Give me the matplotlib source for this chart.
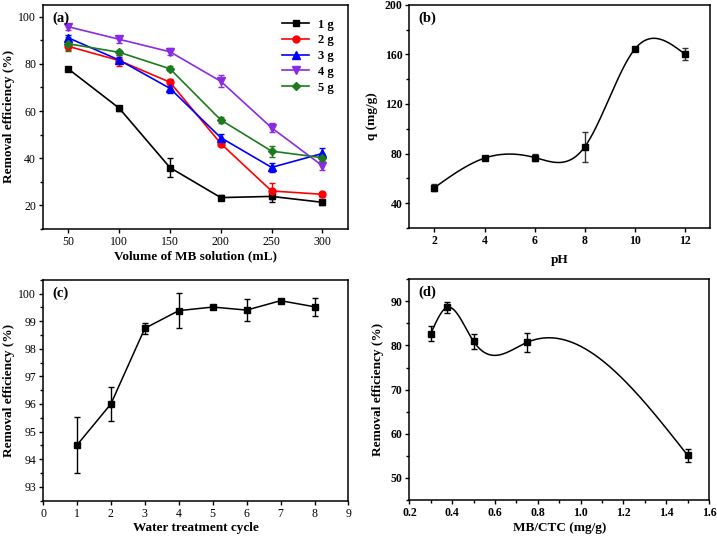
import numpy as np
import matplotlib
matplotlib.use('Agg')
import matplotlib.pyplot as plt
from matplotlib.lines import Line2D
from matplotlib.ticker import MultipleLocator

plt.rcParams['font.family'] = ['Liberation Serif', 'DejaVu Serif']

# (a) removal vs volume of MB solution
vol = [50, 100, 150, 200, 250, 300]
dose_labels = ['1 g', '2 g', '3 g', '4 g', '5 g']
rem_1g = [77.8, 61.2, 36.0, 23.3, 23.8, 21.3]
err_1g = [0.6, 1.0, 4.0, 1.0, 2.5, 1.0]
rem_2g = [87.4, 81.4, 72.2, 46.2, 26.1, 24.7]
err_2g = [1.5, 2.5, 1.5, 1.2, 3.5, 1.0]
rem_3g = [91.0, 81.6, 69.6, 48.7, 36.1, 42.0]
err_3g = [1.2, 1.2, 2.0, 1.5, 1.8, 2.2]
rem_4g = [95.7, 90.4, 85.1, 72.6, 52.9, 36.8]
err_4g = [1.2, 1.5, 1.5, 2.5, 2.0, 2.0]
rem_5g = [88.5, 84.9, 77.9, 56.2, 43.0, 40.2]
err_5g = [3.0, 1.0, 1.0, 1.2, 2.3, 1.5]

# (b) q vs pH
ph = [2, 4, 6, 8, 10, 12]
q = [52.5, 76.3, 76.8, 85.3, 164.2, 160.3]
q_err = [3.0, 1.0, 2.7, 12.2, 1.0, 4.5]

# (c) reuse cycles
cycle = [1, 2, 3, 4, 5, 6, 7, 8]
rem_cyc = [94.51, 96.0, 98.74, 99.38, 99.51, 99.40, 99.74, 99.52]
err_cyc = [1.01, 0.63, 0.21, 0.64, 0.08, 0.39, 0.07, 0.33]

# (d) removal vs MB/CTC ratio
ratio = [0.3, 0.375, 0.5, 0.75, 1.5]
rem_ratio = [82.7, 88.6, 80.9, 80.7, 55.1]
err_ratio = [1.6, 1.3, 1.6, 2.1, 1.5]


def natural_spline(x, y, n=400):
    x = np.asarray(x, float)
    y = np.asarray(y, float)
    k = len(x)
    h = np.diff(x)
    A = np.zeros((k, k))
    r = np.zeros(k)
    A[0, 0] = 1
    A[-1, -1] = 1
    for i in range(1, k - 1):
        A[i, i - 1] = h[i - 1]
        A[i, i] = 2 * (h[i - 1] + h[i])
        A[i, i + 1] = h[i]
        r[i] = 6 * ((y[i + 1] - y[i]) / h[i] - (y[i] - y[i - 1]) / h[i - 1])
    M = np.linalg.solve(A, r)
    xs = np.linspace(x[0], x[-1], n)
    idx = np.clip(np.searchsorted(x, xs) - 1, 0, k - 2)
    x0, x1 = x[idx], x[idx + 1]
    hh = x1 - x0
    a = (x1 - xs) / hh
    b = (xs - x0) / hh
    ys = (a * y[idx] + b * y[idx + 1]
          + ((a ** 3 - a) * M[idx] + (b ** 3 - b) * M[idx + 1]) * hh ** 2 / 6)
    return xs, ys


def style_axes(ax, bold_ticks):
    for s in ax.spines.values():
        s.set_linewidth(1.1)
    ax.tick_params(which='both', direction='out', top=False, right=False,
                   labelsize=8.5, width=1.0, pad=2)
    ax.tick_params(which='major', length=3)
    ax.tick_params(which='minor', length=2)
    if bold_ticks:
        for lab in ax.get_xticklabels() + ax.get_yticklabels():
            lab.set_fontweight('bold')


fig = plt.figure(figsize=(7.17, 5.4), dpi=100)
ax_a = fig.add_axes([0.060, 0.576, 0.425, 0.415])
ax_b = fig.add_axes([0.571, 0.578, 0.419, 0.413])
ax_c = fig.add_axes([0.060, 0.073, 0.426, 0.409])
ax_d = fig.add_axes([0.571, 0.074, 0.418, 0.409])

lbl = dict(fontsize=9.5, fontweight='bold')
eb = dict(capsize=2.5, elinewidth=1.0, capthick=1.0)

# (a)
series = [rem_1g, rem_2g, rem_3g, rem_4g, rem_5g]
errs = [err_1g, err_2g, err_3g, err_4g, err_5g]
colors = ['black', 'red', 'blue', '#8A2BE2', '#1E7A1E']
markers = ['s', 'o', '^', 'v', 'D']
sizes = [5, 5, 5.5, 5.5, 4.5]
handles = []
for yv, ev, c, m, ms, name in zip(series, errs, colors, markers, sizes, dose_labels):
    ax_a.errorbar(vol, yv, yerr=ev, color=c, marker=m, ms=ms, lw=1.2,
                  ecolor=c, **eb)
    handles.append(Line2D([], [], color=c, marker=m, ms=ms, lw=1.2, label=name))
ax_a.set_xlim(25, 325)
ax_a.set_ylim(10, 105)
ax_a.set_xticks(vol)
ax_a.yaxis.set_major_locator(MultipleLocator(20))
ax_a.yaxis.set_minor_locator(MultipleLocator(10))
ax_a.set_xlabel('Volume of MB solution (mL)', labelpad=2, **lbl)
ax_a.set_ylabel('Removal efficiency (%)', labelpad=2, **lbl)
ax_a.legend(handles=handles, loc='upper right', frameon=False,
            handlelength=2.2, handletextpad=0.7, labelspacing=0.3,
            borderaxespad=0.7, prop={'weight': 'bold', 'size': 9})
style_axes(ax_a, False)

# (b)
xs, ys = natural_spline(ph, q)
ax_b.plot(xs, ys, color='black', lw=1.1)
ax_b.errorbar(ph, q, yerr=q_err, fmt='s', color='black', ms=4.5,
              ecolor='#333333', **eb)
ax_b.set_xlim(1, 13)
ax_b.set_ylim(20, 200)
ax_b.set_xticks(ph)
ax_b.yaxis.set_major_locator(MultipleLocator(40))
ax_b.yaxis.set_minor_locator(MultipleLocator(20))
ax_b.set_xlabel('pH', labelpad=5, **lbl)
ax_b.set_ylabel('q (mg/g)', labelpad=5, **lbl)
style_axes(ax_b, True)

# (c)
ax_c.errorbar(cycle, rem_cyc, yerr=err_cyc, color='black', marker='s', ms=4.5,
              lw=1.1, **eb)
ax_c.set_xlim(0, 9)
ax_c.set_ylim(92.5, 100.5)
ax_c.xaxis.set_major_locator(MultipleLocator(1))
ax_c.yaxis.set_major_locator(MultipleLocator(1))
ax_c.yaxis.set_minor_locator(MultipleLocator(0.5))
ax_c.set_xlabel('Water treatment cycle', labelpad=2, **lbl)
ax_c.set_ylabel('Removal efficiency (%)', labelpad=2, **lbl)
style_axes(ax_c, False)

# (d)
xs, ys = natural_spline(ratio, rem_ratio)
ax_d.plot(xs, ys, color='black', lw=1.1)
ax_d.errorbar(ratio, rem_ratio, yerr=err_ratio, fmt='s', color='black', ms=4.5,
              **eb)
ax_d.set_xlim(0.2, 1.6)
ax_d.set_ylim(45, 95)
ax_d.xaxis.set_major_locator(MultipleLocator(0.2))
ax_d.xaxis.set_minor_locator(MultipleLocator(0.1))
ax_d.yaxis.set_major_locator(MultipleLocator(10))
ax_d.yaxis.set_minor_locator(MultipleLocator(5))
ax_d.set_xlabel('MB/CTC (mg/g)', labelpad=2, **lbl)
ax_d.set_ylabel('Removal efficiency (%)', labelpad=5, **lbl)
style_axes(ax_d, True)

for ax, tag in zip([ax_a, ax_b, ax_c, ax_d], ['(a)', '(b)', '(c)', '(d)']):
    ax.text(0.03, 0.97, tag, transform=ax.transAxes, ha='left', va='top',
            fontsize=10.5, fontweight='bold')

fig.savefig('out.png', dpi=100)
